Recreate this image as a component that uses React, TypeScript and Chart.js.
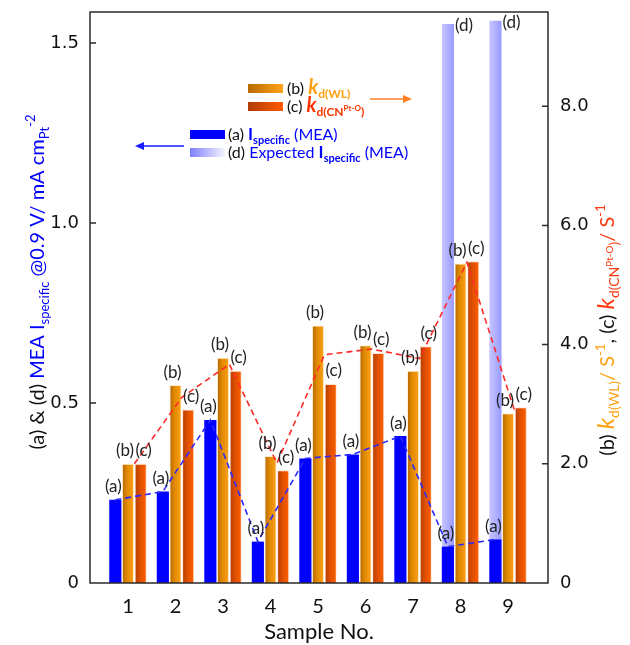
import React, { useEffect, useRef } from 'react';
import { Chart, registerables } from 'chart.js';
Chart.register(...registerables);

// ---- data ----
const samples = [1, 2, 3, 4, 5, 6, 7, 8, 9];
const iSpecificA = [0.231, 0.254, 0.453, 0.115, 0.346, 0.357, 0.408, 0.101, 0.121];
const kdWL_B = [2.0, 3.32, 3.78, 2.13, 4.32, 3.99, 3.56, 5.36, 2.85];
const kdCN_C = [2.0, 2.91, 3.56, 1.89, 3.34, 3.86, 3.97, 5.4, 2.95];
const expectedSamples = [8, 9];
const expectedD = [1.553, 1.562];
const leftTicks = [0, 0.5, 1.0, 1.5];
const rightTicks = [0, 2, 4, 6, 8];
const xTickLabels = ['1', '2', '3', '4', '5', '6', '7', '8', '9'];

const BLUE = '#0000ff';
const ORANGE_TXT = '#ffa010';
const RED_TXT = '#ff3a10';

type Run = { t: string; size: number; color: string; weight?: string; style?: string; dy?: number; family?: string };

function fontOf(r: Run) {
  return `${r.style || 'normal'} ${r.weight || 'normal'} ${r.size}px ${r.family || 'Lato'}`;
}
function drawRuns(ctx: CanvasRenderingContext2D, runs: Run[], x: number, y: number, align: 'left' | 'center') {
  let total = 0;
  const ws: number[] = [];
  for (const r of runs) {
    ctx.font = fontOf(r);
    const w = ctx.measureText(r.t).width;
    ws.push(w);
    total += w;
  }
  let cx = align === 'center' ? x - total / 2 : x;
  ctx.textAlign = 'left';
  ctx.textBaseline = 'alphabetic';
  runs.forEach((r, i) => {
    ctx.font = fontOf(r);
    ctx.fillStyle = r.color;
    ctx.fillText(r.t, cx, y + (r.dy || 0));
    cx += ws[i];
  });
}

function grad(ctx: CanvasRenderingContext2D, x0: number, x1: number, stops: [number, string][]) {
  const g = ctx.createLinearGradient(x0, 0, x1, 0);
  stops.forEach(([o, c]) => g.addColorStop(o, c));
  return g;
}

const GRAD_B: [number, string][] = [[0, '#b06400'], [0.4, '#df8800'], [1, '#ffa31a']];
const GRAD_C: [number, string][] = [[0, '#b03c00'], [0.45, '#e05000'], [1, '#ff6000']];
const GRAD_D: [number, string][] = [[0, '#c6c6ff'], [1, '#9a9aff']];
const GRAD_D_LEG: [number, string][] = [[0, '#7f7fff'], [1, '#f4f4ff']];

function arrow(ctx: CanvasRenderingContext2D, x0: number, x1: number, y: number, color: string) {
  ctx.save();
  ctx.strokeStyle = color;
  ctx.fillStyle = color;
  ctx.lineWidth = 1.5;
  const dir = x1 > x0 ? 1 : -1;
  ctx.beginPath();
  ctx.moveTo(x0, y);
  ctx.lineTo(x1 - dir * 7, y);
  ctx.stroke();
  ctx.beginPath();
  ctx.moveTo(x1, y);
  ctx.lineTo(x1 - dir * 9, y - 4);
  ctx.lineTo(x1 - dir * 9, y + 4);
  ctx.closePath();
  ctx.fill();
  ctx.restore();
}

const decorPlugin = {
  id: 'decor',
  beforeDatasetsDraw(chart: any) {
    const ctx = chart.ctx;
    const map: Record<number, [number, string][]> = { 1: GRAD_B, 2: GRAD_C, 3: GRAD_D };
    Object.keys(map).forEach((k) => {
      const meta = chart.getDatasetMeta(Number(k));
      meta.data.forEach((el: any) => {
        const { x, width } = el.getProps(['x', 'width'], true);
        el.options.backgroundColor = grad(ctx, x - width / 2, x + width / 2, map[Number(k)]);
      });
    });
  },
  afterDatasetsDraw(chart: any) {
    const ctx = chart.ctx;
    const mA = chart.getDatasetMeta(0).data;
    const mB = chart.getDatasetMeta(1).data;
    const mC = chart.getDatasetMeta(2).data;
    const mD = chart.getDatasetMeta(3).data;
    ctx.save();
    ctx.setLineDash([6, 4]);
    ctx.lineWidth = 1.6;
    ctx.strokeStyle = '#2a2aff';
    ctx.beginPath();
    mA.forEach((el: any, i: number) => {
      const p = el.getProps(['x', 'y'], true);
      if (i === 0) ctx.moveTo(p.x, p.y); else ctx.lineTo(p.x, p.y);
    });
    ctx.stroke();
    ctx.strokeStyle = '#ff2a2a';
    ctx.beginPath();
    mB.forEach((el: any, i: number) => {
      const b = el.getProps(['x', 'y'], true);
      const c = mC[i].getProps(['x', 'y'], true);
      const px = (b.x + c.x) / 2;
      const py = (b.y + c.y) / 2;
      if (i === 0) ctx.moveTo(px, py); else ctx.lineTo(px, py);
    });
    ctx.stroke();
    ctx.restore();

    ctx.save();
    ctx.font = 'normal 17px Lato';
    ctx.fillStyle = '#222';
    ctx.textBaseline = 'middle';
    ctx.textAlign = 'center';
    const lab = (els: any[], t: string, dx: number) => {
      els.forEach((el: any) => {
        const p = el.getProps(['x', 'y'], true);
        ctx.fillText(t, p.x + dx, p.y - 13);
      });
    };
    lab(mA, '(a)', -2);
    lab(mB, '(b)', -3);
    lab(mC, '(c)', 3);
    ctx.textAlign = 'left';
    mD.forEach((el: any) => {
      const p = el.getProps(['x', 'y', 'width'], true);
      ctx.fillText('(d)', p.x + p.width / 2 + 1, p.y + 2);
    });
    ctx.restore();
  },
  afterDraw(chart: any) {
    const ctx: CanvasRenderingContext2D = chart.ctx;
    const a = chart.chartArea;
    ctx.save();
    ctx.strokeStyle = '#2b2b2b';
    ctx.lineWidth = 1.5;
    ctx.strokeRect(a.left, a.top, a.right - a.left, a.bottom - a.top);
    const yl = chart.scales.y;
    const yr = chart.scales.y1;
    ctx.beginPath();
    leftTicks.forEach((v) => {
      if (v === 0) return;
      const py = yl.getPixelForValue(v);
      ctx.moveTo(a.left, py);
      ctx.lineTo(a.left + 6, py);
    });
    rightTicks.forEach((v) => {
      if (v === 0) return;
      const py = yr.getPixelForValue(v);
      ctx.moveTo(a.right, py);
      ctx.lineTo(a.right - 6, py);
    });
    ctx.stroke();
    ctx.restore();

    ctx.save();
    ctx.font = 'normal 22px Lato';
    ctx.fillStyle = '#111';
    ctx.textAlign = 'center';
    ctx.textBaseline = 'alphabetic';
    ctx.fillText('Sample No.', (a.left + a.right) / 2, 639);
    ctx.restore();

    ctx.save();
    ctx.translate(44, 282);
    ctx.rotate(-Math.PI / 2);
    drawRuns(ctx, [
      { t: '(a) & (d) ', size: 20, color: '#111' },
      { t: 'MEA I', size: 20, color: BLUE },
      { t: 'specific', size: 13, color: BLUE, dy: 5 },
      { t: ' @0.9 V/ mA cm', size: 20, color: BLUE },
      { t: 'Pt', size: 13, color: BLUE, dy: 5 },
      { t: '-2', size: 13, color: BLUE, dy: -9 },
    ], 0, 0, 'center');
    ctx.restore();

    ctx.save();
    ctx.translate(614, 330);
    ctx.rotate(-Math.PI / 2);
    drawRuns(ctx, [
      { t: '(b) ', size: 20, color: '#111' },
      { t: 'k', size: 24, color: ORANGE_TXT, style: 'italic' },
      { t: 'd(WL)', size: 14, color: ORANGE_TXT, dy: 5 },
      { t: '/ S', size: 20, color: ORANGE_TXT },
      { t: '-1', size: 13, color: ORANGE_TXT, dy: -9 },
      { t: ', (c) ', size: 20, color: '#111' },
      { t: 'k', size: 24, color: RED_TXT, style: 'italic' },
      { t: 'd(CN', size: 14, color: RED_TXT, dy: 5 },
      { t: 'Pt-O', size: 10, color: RED_TXT, dy: -1 },
      { t: ')', size: 14, color: RED_TXT, dy: 5 },
      { t: '/ S', size: 20, color: RED_TXT },
      { t: '-1', size: 13, color: RED_TXT, dy: -9 },
    ], 0, 0, 'center');
    ctx.restore();

    ctx.save();
    ctx.fillStyle = grad(ctx, 248, 283, [[0, '#b86a00'], [1, '#ffa31a']]);
    ctx.fillRect(248, 84, 35, 9);
    ctx.fillStyle = grad(ctx, 248, 283, [[0, '#b03c00'], [1, '#ff5a00']]);
    ctx.fillRect(248, 102, 35, 9);
    ctx.fillStyle = BLUE;
    ctx.fillRect(190, 130, 35, 9);
    ctx.fillStyle = grad(ctx, 190, 225, GRAD_D_LEG);
    ctx.fillRect(190, 148, 35, 9);

    drawRuns(ctx, [
      { t: '(b) ', size: 16, color: '#111' },
      { t: 'k', size: 20, color: ORANGE_TXT, style: 'italic', weight: 'bold' },
      { t: 'd(WL)', size: 12, color: ORANGE_TXT, weight: 'bold', dy: 4 },
    ], 287, 94, 'left');
    drawRuns(ctx, [
      { t: '(c) ', size: 16, color: '#111' },
      { t: 'k', size: 20, color: '#ff3300', style: 'italic', weight: 'bold' },
      { t: 'd(CN', size: 12, color: '#ff3300', weight: 'bold', dy: 4 },
      { t: 'Pt-O', size: 8, color: '#ff3300', weight: 'bold', dy: -1 },
      { t: ')', size: 12, color: '#ff3300', weight: 'bold', dy: 4 },
    ], 287, 112, 'left');
    drawRuns(ctx, [
      { t: '(a) ', size: 16, color: '#111' },
      { t: 'I', size: 17, color: BLUE, weight: 'bold' },
      { t: 'specific', size: 11, color: BLUE, weight: 'bold', dy: 4 },
      { t: ' (MEA)', size: 16, color: BLUE },
    ], 228, 140, 'left');
    drawRuns(ctx, [
      { t: '(d) ', size: 16, color: '#111' },
      { t: 'Expected ', size: 16, color: BLUE },
      { t: 'I', size: 17, color: BLUE, weight: 'bold' },
      { t: 'specific', size: 11, color: BLUE, weight: 'bold', dy: 4 },
      { t: ' (MEA)', size: 16, color: BLUE },
    ], 228, 158, 'left');
    ctx.restore();

    arrow(ctx, 370, 412, 99, '#ff7f27');
    arrow(ctx, 184, 135, 146, '#1a1aff');
  },
};

export default function App() {
  const ref = useRef<HTMLCanvasElement>(null);
  useEffect(() => {
    if (!ref.current) return;
    const common = { categoryPercentage: 0.8, barPercentage: 0.96, borderWidth: 0 };
    const fixY = (w: number) => (s: any) => {
      s.width = w;
      s.paddingTop = 0;
      s.paddingBottom = 0;
    };
    const chart = new Chart(ref.current, {
      type: 'bar',
      data: {
        datasets: [
          {
            label: '(a)', ...common, stack: 'ad', yAxisID: 'y',
            data: samples.map((x, i) => ({ x, y: iSpecificA[i] })),
            backgroundColor: BLUE,
          },
          {
            label: '(b)', ...common, stack: 'b', yAxisID: 'y1',
            data: samples.map((x, i) => ({ x, y: kdWL_B[i] })),
            backgroundColor: () => '#f39200',
            borderWidth: 1, borderColor: 'rgba(255,236,205,0.85)',
          },
          {
            label: '(c)', ...common, stack: 'c', yAxisID: 'y1',
            data: samples.map((x, i) => ({ x, y: kdCN_C[i] })),
            backgroundColor: () => '#e85400',
            borderWidth: 1, borderColor: 'rgba(255,225,205,0.85)',
          },
          {
            label: '(d)', ...common, stack: 'ad', yAxisID: 'y',
            data: expectedSamples.map((x, i) => ({ x, y: expectedD[i] })),
            backgroundColor: () => '#b0b0ff',
          },
        ] as any,
      },
      options: {
        responsive: false,
        animation: false,
        layout: { padding: { top: 12, left: 0, right: 0, bottom: 0 } },
        plugins: { legend: { display: false }, tooltip: { enabled: false } },
        scales: {
          x: {
            type: 'linear', min: 0.2, max: 9.84, offset: false,
            afterFit: (s: any) => { s.height = 62; s.paddingLeft = 0; s.paddingRight = 0; },
            afterBuildTicks: (s: any) => { s.ticks = samples.map((v) => ({ value: v })); },
            grid: { display: false, drawTicks: false },
            border: { display: false },
            ticks: {
              autoSkip: false, maxRotation: 0, padding: 12, color: '#111',
              font: { family: 'Lato', size: 20 },
              callback: (v: any) => xTickLabels[samples.indexOf(Number(v))] ?? '',
            },
          },
          y: {
            type: 'linear', position: 'left', min: 0, max: 1.586, stacked: false,
            afterFit: fixY(90),
            afterBuildTicks: (s: any) => { s.ticks = leftTicks.map((v) => ({ value: v })); },
            grid: { display: false, drawTicks: false },
            border: { display: false },
            ticks: {
              padding: 11, color: '#111',
              font: { family: 'DejaVu Sans', size: 18 },
              callback: (v: any) => (Number(v) === 0 ? '0' : Number(v).toFixed(1)),
            },
          },
          y1: {
            type: 'linear', position: 'right', min: 0, max: 9.58, stacked: false,
            afterFit: fixY(82),
            afterBuildTicks: (s: any) => { s.ticks = rightTicks.map((v) => ({ value: v })); },
            grid: { display: false, drawTicks: false },
            border: { display: false },
            ticks: {
              padding: 12, color: '#111',
              font: { family: 'DejaVu Sans', size: 18 },
              callback: (v: any) => (Number(v) === 0 ? '0' : Number(v).toFixed(1)),
            },
          },
        },
      } as any,
      plugins: [decorPlugin],
    });
    return () => chart.destroy();
  }, []);
  return (
    <div style={{ position: 'fixed', left: 0, top: 0, width: 630, height: 645, background: '#fff' }}>
      <canvas ref={ref} width={630} height={645} style={{ display: 'block' }} />
    </div>
  );
}
